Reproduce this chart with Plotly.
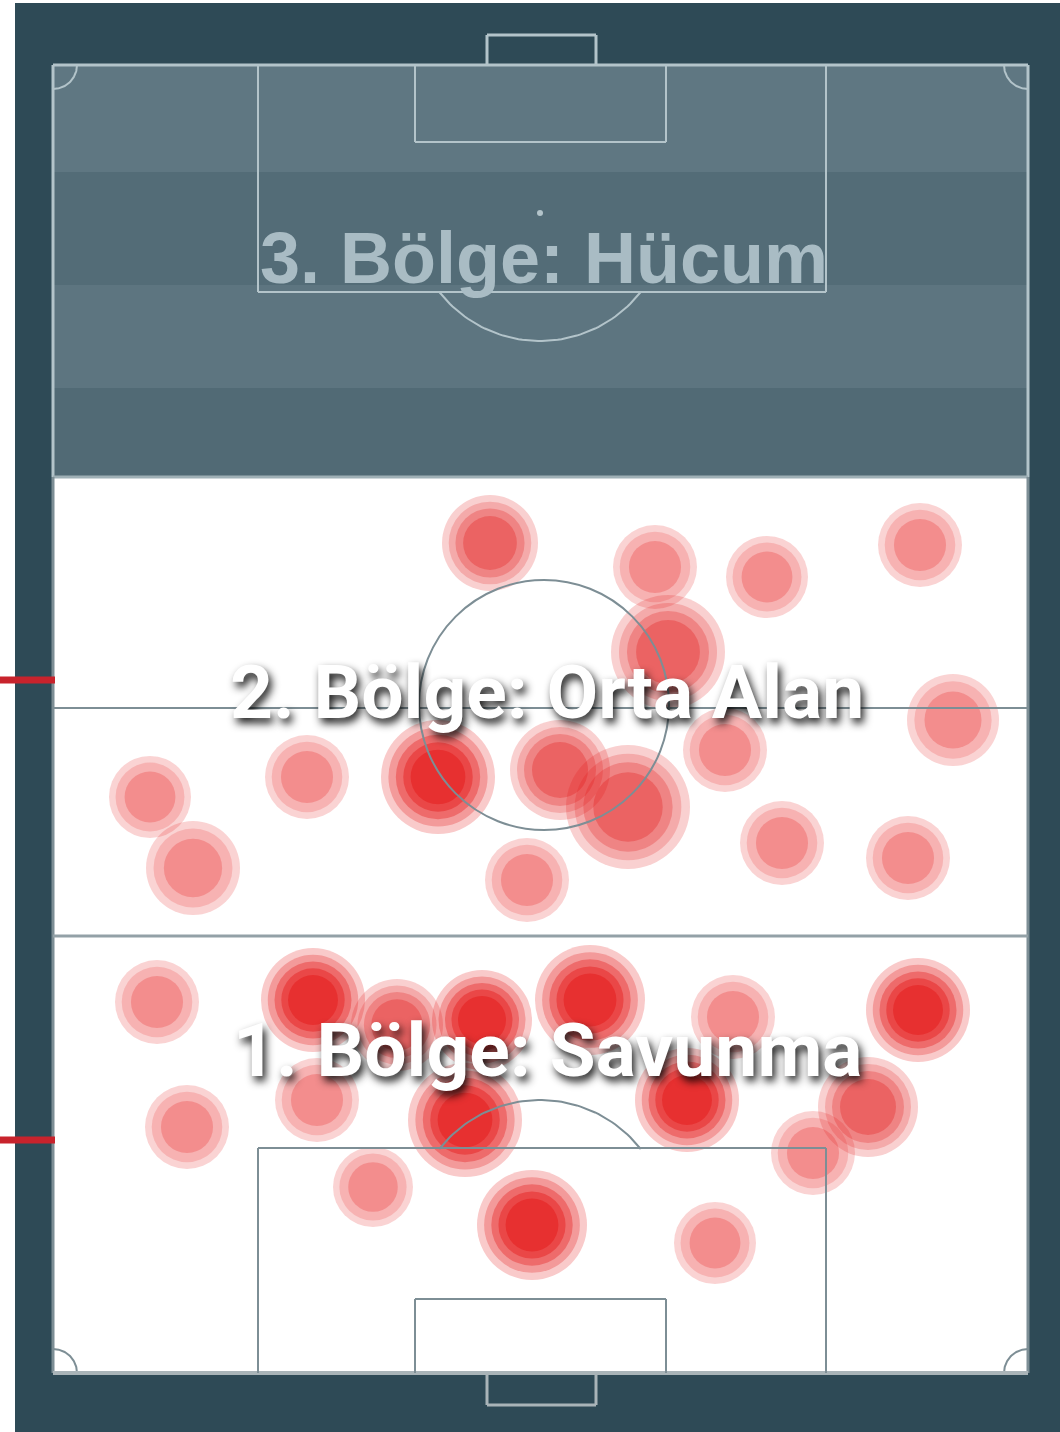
import numpy as np
import plotly.graph_objects as go

# ---------------- data ----------------
# heat spots (pitch coordinates in drawing units)
spot_x = [490, 655, 767, 920, 668, 953, 150, 193, 307, 438, 560, 628, 725, 527, 782, 908,
          157, 313, 397, 482, 590, 733, 918, 187, 317, 465, 687, 868, 813, 373, 532, 715]
spot_y = [543, 567, 577, 545, 652, 720, 797, 868, 777, 777, 770, 807, 750, 880, 843, 858,
          1002, 1000, 1025, 1020, 1000, 1017, 1010, 1127, 1100, 1120, 1100, 1107, 1153, 1187, 1225, 1243]
spot_r = [48, 42, 41, 42, 57, 46, 41, 47, 42, 57, 50, 62, 42, 42, 42, 42,
          42, 52, 46, 50, 55, 42, 52, 42, 42, 57, 52, 50, 42, 40, 55, 41]
spot_level = [2, 1, 1, 1, 2, 1, 1, 1, 1, 3, 2, 2, 1, 1, 1, 1,
              1, 3, 2, 3, 3, 1, 3, 1, 1, 3, 3, 2, 1, 1, 3, 1]

zone_labels = ["3. Bölge: Hücum", "2. Bölge: Orta Alan", "1. Bölge: Savunma"]
zone_label_y = [258, 692, 1050]

# ---------------- geometry ----------------
W, H = 1060, 1432
PX0, PX1, PY0, PY1 = 53, 1028, 65, 1373
MID_Y = 708
ZONE_TOP = 477
ZONE_LOW = 936
FRAME = "#2e4a56"
LIGHT = "#b3c4ca"
GRAY = "#7d8e95"

fig = go.Figure()
shapes = []

def rect(x0, y0, x1, y1, fill=None, line=None, lw=2, layer="below"):
    d = dict(type="rect", xref="x", yref="y", x0=x0, y0=y0, x1=x1, y1=y1, layer=layer,
             line=dict(width=lw if line else 0, color=line or "rgba(0,0,0,0)"))
    if fill:
        d["fillcolor"] = fill
    shapes.append(d)

def seg(x0, y0, x1, y1, color, lw=2, layer="above"):
    shapes.append(dict(type="line", xref="x", yref="y", x0=x0, y0=y0, x1=x1, y1=y1,
                       layer=layer, line=dict(color=color, width=lw)))

# dark frame
rect(15, 3, W + 20, H + 20, fill=FRAME)
# white pitch
rect(PX0, PY0, PX1, PY1, fill="white")
# top zone striped overlay
stripes = [(PY0, 172, "#5f7782"), (172, 285, "#536c77"), (285, 388, "#5d7580"), (388, ZONE_TOP, "#516a75")]
for y0, y1, c in stripes:
    rect(PX0, y0, PX1, y1, fill=c)

# top zone lines (light)
seg(PX0, PY0, PX1, PY0, LIGHT, 3)
seg(PX0, PY0, PX0, ZONE_TOP, LIGHT, 3)
seg(PX1, PY0, PX1, ZONE_TOP, LIGHT, 3)
seg(258, PY0, 258, 292, LIGHT)
seg(826, PY0, 826, 292, LIGHT)
seg(258, 292, 826, 292, LIGHT)
seg(415, PY0, 415, 142, LIGHT)
seg(666, PY0, 666, 142, LIGHT)
seg(415, 142, 666, 142, LIGHT)
# top goal
seg(487, 35, 596, 35, LIGHT, 3)
seg(487, 35, 487, PY0, LIGHT, 3)
seg(596, 35, 596, PY0, LIGHT, 3)
seg(PX0, ZONE_TOP, PX1, ZONE_TOP, "#9fb0b6", 3)

# lower zones lines (gray)
seg(PX0, ZONE_TOP, PX0, PY1, GRAY, 3)
seg(PX1, ZONE_TOP, PX1, PY1, GRAY, 3)
seg(PX0, PY1, PX1, PY1, "#a9b4b8", 4)
seg(PX0, MID_Y, PX1, MID_Y, GRAY, 2)
seg(PX0, ZONE_LOW, PX1, ZONE_LOW, "#93a1a7", 3)
seg(258, 1148, 826, 1148, GRAY)
seg(258, 1148, 258, PY1, GRAY)
seg(826, 1148, 826, PY1, GRAY)
seg(415, 1299, 666, 1299, GRAY)
seg(415, 1299, 415, PY1, GRAY)
seg(666, 1299, 666, PY1, GRAY)
# bottom goal
seg(487, 1405, 596, 1405, "#a9b4b8", 3)
seg(487, PY1, 487, 1405, "#a9b4b8", 3)
seg(596, PY1, 596, 1405, "#a9b4b8", 3)
# centre circle
shapes.append(dict(type="circle", xref="x", yref="y", x0=419, y0=580, x1=669, y1=830,
                   layer="above", line=dict(color=GRAY, width=2)))
# penalty spot top
shapes.append(dict(type="circle", xref="x", yref="y", x0=537, y0=210, x1=543, y1=216,
                   layer="below", fillcolor=LIGHT, line=dict(width=0)))

# red markers on the left
seg(-10, 680, 55, 680, "#c8232c", 7)
seg(-10, 1140, 55, 1140, "#c8232c", 7)

# ---------------- heat spots ----------------
LEVELS = {1: ([1.0, 0.84, 0.62], (230, 30, 30), [0.28, 0.25, 0.35]),
          2: ([1.0, 0.86, 0.72, 0.56], (225, 15, 15), [0.28, 0.28, 0.35, 0.40]),
          3: ([1.0, 0.87, 0.74, 0.61, 0.48], (225, 5, 5), [0.30, 0.35, 0.45, 0.50, 0.50])}
for ring in range(5):
    xs, ys, ss, cs = [], [], [], []
    for x, y, r, lv in zip(spot_x, spot_y, spot_r, spot_level):
        fracs, col, alphas = LEVELS[lv]
        if ring < len(fracs):
            xs.append(x); ys.append(y); ss.append(2 * r * fracs[ring])
            cs.append(f"rgba({col[0]},{col[1]},{col[2]},{alphas[ring]})")
    if xs:
        fig.add_trace(go.Scatter(x=xs, y=ys, mode="markers", hoverinfo="skip",
                                 marker=dict(size=ss, color=cs, line=dict(width=0))))

# ---------------- arcs ----------------
def arc(cx, cy, rx, ry, t0, t1, color, lw=2):
    t = np.linspace(np.radians(t0), np.radians(t1), 60)
    fig.add_trace(go.Scatter(x=cx + rx * np.cos(t), y=cy + ry * np.sin(t), mode="lines",
                             hoverinfo="skip", line=dict(color=color, width=lw)))

# penalty arcs (y axis reversed: positive sin goes down)
ang = np.degrees(np.arcsin(79 / 128))
arc(540, 213, 128, 128, ang, 180 - ang, LIGHT)
arc(540, 1228, 128, 128, 180 + ang, 360 - ang, GRAY)
# corner arcs
CR = 24
arc(PX0, PY0, CR, CR, 0, 90, LIGHT)
arc(PX1, PY0, CR, CR, 90, 180, LIGHT)
arc(PX0, PY1, CR, CR, 270, 360, GRAY)
arc(PX1, PY1, CR, CR, 180, 270, GRAY)

# ---------------- labels ----------------
SHADOW = "3px 5px 8px rgba(0,0,0,0.9)"
annotations = [
    dict(text=zone_labels[0], x=544, y=zone_label_y[0], xref="x", yref="y", showarrow=False,
         font=dict(family="Liberation Sans", size=72, color="#a9bcc4", weight="bold")),
    dict(text=zone_labels[1], x=547, y=zone_label_y[1], xref="x", yref="y", showarrow=False,
         font=dict(family="Roboto", size=75, color="white", weight="bold", shadow=SHADOW)),
    dict(text=zone_labels[2], x=547, y=zone_label_y[2], xref="x", yref="y", showarrow=False,
         font=dict(family="Roboto", size=75, color="white", weight="bold", shadow=SHADOW)),
]

fig.update_layout(
    width=W, height=H, margin=dict(l=0, r=0, t=0, b=0),
    paper_bgcolor="white", plot_bgcolor="white", showlegend=False,
    xaxis=dict(range=[0, W], visible=False, fixedrange=True),
    yaxis=dict(range=[H, 0], visible=False, fixedrange=True),
    shapes=shapes, annotations=annotations,
)
fig.write_html("out.html", config={"displayModeBar": False, "staticPlot": True},
               post_script="document.body.style.margin='0';")
